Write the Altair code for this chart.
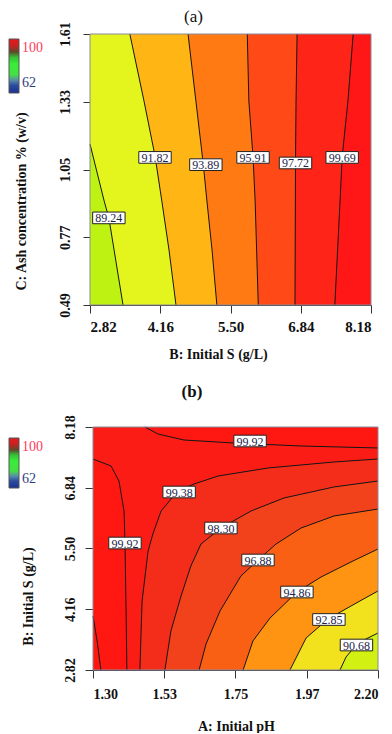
import altair as alt
import pandas as pd

FONT = "Liberation Serif"

# ---------------- Panel (a): B: Initial S vs C: Ash concentration ----------------
A_TITLE = "(a)"
A_X_TICKS = [2.82, 4.16, 5.50, 6.84, 8.18]
A_Y_TICKS = [0.49, 0.77, 1.05, 1.33, 1.61]
A_LEVELS = ["89.24", "91.82", "93.89", "95.91", "97.72", "99.69"]
A_LINE_S = {
    "89.24": [2.82, 3.09, 3.18, 3.45],
    "91.82": [3.58, 3.85, 4.06, 4.19, 4.33, 4.46],
    "93.89": [4.69, 4.84, 4.98, 5.05, 5.15, 5.24],
    "95.91": [5.82, 5.85, 5.93, 5.97, 6.03],
    "97.72": [6.77, 6.75, 6.74, 6.73],
    "99.69": [7.84, 7.74, 7.63, 7.59, 7.49],
}
A_LINE_C = {
    "89.24": [1.155, 0.92, 0.85, 0.49],
    "91.82": [1.61, 1.333, 1.106, 0.92, 0.713, 0.49],
    "93.89": [1.61, 1.333, 1.073, 0.92, 0.713, 0.49],
    "95.91": [1.61, 1.333, 1.102, 0.92, 0.49],
    "97.72": [1.61, 1.333, 1.077, 0.49],
    "99.69": [1.61, 1.333, 1.102, 0.92, 0.49],
}
# colour of the band lying beyond (right of) each level; first = below lowest level
A_BAND_COLORS = ["#bdf212", "#e3f51c", "#ffb614", "#ff7a12", "#ff4a18", "#ff2418", "#ff1616"]
A_LABEL_S = [3.18, 4.06, 5.03, 5.93, 6.74, 7.63]
A_LABEL_C = [0.85, 1.10, 1.07, 1.10, 1.077, 1.10]

# ---------------- Panel (b): A: Initial pH vs B: Initial S ----------------
B_TITLE = "(b)"
B_X_TICKS = [1.30, 1.525, 1.75, 1.975, 2.20]
B_X_LABELS = ["1.30", "1.53", "1.75", "1.97", "2.20"]
B_Y_TICKS = [2.82, 4.16, 5.50, 6.84, 8.18]
# 99.92 contour reaching the top edge
B_TOP_PH = [1.464, 1.505, 1.587, 1.745, 1.957, 2.20]
B_TOP_S = [8.18, 8.026, 7.893, 7.827, 7.761, 7.717]
# 99.92 contour reaching the left edge
B_LEFT_PH = [1.30, 1.357, 1.382, 1.398, 1.401, 1.404, 1.407]
B_LEFT_S = [7.474, 7.320, 6.989, 6.327, 5.621, 4.342, 2.82]
# small contour in the lower-left corner
B_CORNER_PH = [1.30, 1.313, 1.325]
B_CORNER_S = [4.011, 3.460, 2.82]
# contours running from the bottom edge to the right edge
B_LEVELS = ["99.38", "98.30", "96.88", "94.86", "92.85", "90.68"]
B_LINE_PH = {
    "99.38": [1.448, 1.455, 1.474, 1.489, 1.515, 1.568, 1.619, 1.695, 1.853, 2.061, 2.20],
    "98.30": [1.527, 1.546, 1.578, 1.609, 1.641, 1.704, 1.799, 1.903, 2.061, 2.20],
    "96.88": [1.635, 1.657, 1.701, 1.767, 1.821, 1.878, 1.957, 2.061, 2.20],
    "94.86": [1.774, 1.805, 1.859, 1.944, 2.020, 2.121, 2.20],
    "92.85": [1.922, 1.973, 2.042, 2.143, 2.20],
    "90.68": [2.080, 2.099, 2.131, 2.162, 2.20],
}
B_LINE_S = {
    "99.38": [2.82, 4.342, 5.445, 5.820, 6.327, 6.768, 6.923, 7.099, 7.276, 7.408, 7.474],
    "98.30": [2.82, 3.680, 4.452, 5.114, 5.599, 5.952, 6.327, 6.614, 6.857, 6.989],
    "96.88": [2.82, 3.393, 4.121, 4.893, 5.246, 5.599, 5.952, 6.217, 6.371],
    "94.86": [2.82, 3.460, 3.967, 4.540, 4.871, 5.224, 5.489],
    "92.85": [2.82, 3.526, 3.945, 4.342, 4.563],
    "90.68": [2.82, 3.107, 3.371, 3.504, 3.636],
}
B_BASE_COLOR = "#fb1d15"     # 99.38 - 99.92 band
B_HIGH_COLOR = "#ff1812"     # above 99.92
B_BAND_COLORS = ["#f42c1a", "#f2421c", "#fa6014", "#ff9412", "#f2e21e", "#d2f012"]
B_LABEL_TEXT = ["99.92", "99.38", "98.30", "99.92", "96.88", "94.86", "92.85", "90.68"]
B_LABEL_PH = [1.796, 1.572, 1.704, 1.401, 1.821, 1.944, 2.045, 2.132]
B_LABEL_S = [7.871, 6.746, 5.952, 5.621, 5.246, 4.540, 3.934, 3.371]

LEGEND_HI, LEGEND_LO = "100", "62"
LEGEND_STOPS = [(0.0, "#e41a1c"), (0.12, "#cc2020"), (0.24, "#5c4a2c"), (0.34, "#36c036"),
                (0.46, "#38ee38"), (0.66, "#44e044"), (0.76, "#5a8ea8"), (0.86, "#2a4ca0"),
                (1.0, "#1a3090")]

LINE_COLOR = "#151515"
BOX_SHAPE = "M-1,-0.36L1,-0.36L1,0.36L-1,0.36Z"


def gradient():
    return alt.LinearGradient(
        gradient="linear", x1=0, y1=0, x2=0, y2=1,
        stops=[alt.GradientStop(offset=o, color=c) for o, c in LEGEND_STOPS])


def px_text(txt, x, y, size, color, weight="normal", align="center"):
    return alt.Chart(pd.DataFrame({"t": [txt]})).mark_text(
        font=FONT, fontSize=size, fontWeight=weight, color=color,
        align=align, baseline="middle").encode(text="t:N", x=alt.value(x), y=alt.value(y))


def legend(y0, y1, yhi, ylo):
    bar = alt.Chart(pd.DataFrame({"k": [0]})).mark_rect(
        fill=gradient(), stroke="#555555", strokeWidth=1).encode(
        x=alt.value(-81), x2=alt.value(-71), y=alt.value(y0), y2=alt.value(y1))
    return [bar, px_text(LEGEND_HI, -68, yhi, 14, "#ff3b5c", align="left"),
            px_text(LEGEND_LO, -68, ylo, 14, "#2c3e80", align="left")]


class Panel:
    def __init__(self, xs, ys, xaxis, yaxis):
        self.xs, self.ys, self.xa, self.ya = xs, ys, xaxis, yaxis

    def X(self, f):
        return alt.X(f, scale=self.xs, axis=self.xa, title=None)

    def Y(self, f):
        return alt.Y(f, scale=self.ys, axis=self.ya, title=None)


def rect_box(P, xdom, ydom, **mk):
    box = pd.DataFrame({"x0": [xdom[0]], "x1": [xdom[1]], "y0": [ydom[0]], "y1": [ydom[1]]})
    return alt.Chart(box).mark_rect(**mk).encode(
        x=P.X("x0:Q"), x2="x1:Q", y=P.Y("y0:Q"), y2="y1:Q")


def lines_layer(P, rows):
    df = pd.DataFrame(rows, columns=["level", "i", "x", "y"])
    return alt.Chart(df).mark_line(color=LINE_COLOR, strokeWidth=1).encode(
        x=P.X("x:Q"), y=P.Y("y:Q"), detail="level:N", order="i:Q")


def labels_layers(P, texts, xv, yv):
    df = pd.DataFrame({"t": texts, "x": xv, "y": yv})
    box = alt.Chart(df).mark_point(shape=BOX_SHAPE, size=1050, filled=True, fill="white",
                                   stroke="#222222", strokeWidth=1, opacity=1).encode(
        x=P.X("x:Q"), y=P.Y("y:Q"))
    txt = alt.Chart(df).mark_text(font=FONT, fontSize=12, color="#1c2448",
                                  baseline="middle", dy=0.5).encode(
        x=P.X("x:Q"), y=P.Y("y:Q"), text="t:N")
    return [box, txt]


def area_h(P, xs_left, xs_right, yv, color):
    # band between two x-boundaries along y
    df = pd.DataFrame({"a": xs_left, "b": xs_right, "y": yv}).sort_values("y").reset_index(drop=True)
    return alt.Chart(df).mark_area(orient="horizontal", color=color).encode(
        x=P.X("a:Q"), x2="b:Q", y=P.Y("y:Q"))


def area_v(P, xv, ylo, yhi, color):
    df = pd.DataFrame({"x": xv, "a": ylo, "b": yhi}).sort_values("x").reset_index(drop=True)
    return alt.Chart(df).mark_area(orient="vertical", color=color).encode(
        x=P.X("x:Q"), y=P.Y("a:Q"), y2="b:Q")


# ====================== build panel (a) ======================
axs = alt.Scale(domain=[A_X_TICKS[0], A_X_TICKS[-1]], nice=False, zero=False)
ays = alt.Scale(domain=[A_Y_TICKS[0], A_Y_TICKS[-1]], nice=False, zero=False)
a_xaxis = alt.Axis(values=A_X_TICKS, format=".2f", title="B: Initial S (g/L)", grid=False,
                   labelFont=FONT, labelFontSize=15, labelFontWeight="bold", labelColor="#111",
                   tickSize=8, labelPadding=6, tickColor="#333", domainColor="#333",
                   titleFont=FONT, titleFontSize=14, titleFontWeight="bold", titleColor="#111",
                   titleX=128, titleY=49, titleBaseline="middle", titleAlign="center")
a_yaxis = alt.Axis(values=A_Y_TICKS, format=".2f", title="C: Ash concentration % (w/v)",
                   grid=False, labelFont=FONT, labelFontSize=14, labelFontWeight="bold",
                   labelColor="#111", labelAngle=270, labelAlign="center",
                   labelBaseline="bottom", tickSize=7, labelPadding=11,
                   tickColor="#333", domainColor="#333",
                   titleFont=FONT, titleFontSize=14, titleFontWeight="bold", titleColor="#111",
                   titleAngle=270, titleX=-69, titleY=167, titleBaseline="middle",
                   titleAlign="center")
PA = Panel(axs, ays, a_xaxis, a_yaxis)
AX = [A_X_TICKS[0], A_X_TICKS[-1]]
AY = [A_Y_TICKS[0], A_Y_TICKS[-1]]
a_layers = [rect_box(PA, AX, AY, color=A_BAND_COLORS[0])]
for k, lev in enumerate(A_LEVELS):
    s = list(A_LINE_S[lev])
    c = list(A_LINE_C[lev])
    if c[0] < AY[1]:
        s = [AX[0]] + s
        c = [AY[1]] + c
    a_layers.append(area_h(PA, s, [AX[1]] * len(s), c, A_BAND_COLORS[k + 1]))
rows = []
for lev in A_LEVELS:
    for i, (s, c) in enumerate(zip(A_LINE_S[lev], A_LINE_C[lev])):
        rows.append((lev, i, s, c))
a_layers.append(lines_layer(PA, rows))
a_layers += labels_layers(PA, A_LEVELS, A_LABEL_S, A_LABEL_C)
a_layers.append(rect_box(PA, AX, AY, fillOpacity=0, stroke="#8a8a9a", strokeWidth=1))
a_layers += legend(5, 59, 13.5, 49)
a_layers.append(px_text(A_TITLE, 103.5, -17, 17, "#111"))
chart_a = alt.layer(*a_layers).properties(width=281, height=271)

# ====================== build panel (b) ======================
bxs = alt.Scale(domain=[B_X_TICKS[0], B_X_TICKS[-1]], range=[3, 288], nice=False, zero=False)
bys = alt.Scale(domain=[B_Y_TICKS[0], B_Y_TICKS[-1]], nice=False, zero=False)
vals = ",".join(repr(v) for v in B_X_TICKS)
labs = ",".join("'" + l + "'" for l in B_X_LABELS)
b_xaxis = alt.Axis(values=B_X_TICKS, labelExpr=f"[{labs}][indexof([{vals}], datum.value)]",
                   title="A: Initial pH", grid=False,
                   labelFont=FONT, labelFontSize=14, labelFontWeight="bold", labelColor="#111",
                   tickSize=8, labelPadding=9, tickColor="#333", domainColor="#333",
                   titleFont=FONT, titleFontSize=14, titleFontWeight="bold", titleColor="#111",
                   titleX=146, titleY=56, titleBaseline="middle", titleAlign="center")
b_yaxis = alt.Axis(values=B_Y_TICKS, format=".2f", title="B: Initial S (g/L)", grid=False,
                   offset=-3, labelFont=FONT, labelFontSize=14, labelFontWeight="bold",
                   labelColor="#111", labelAngle=270, labelAlign="center",
                   labelBaseline="bottom", tickSize=8, labelPadding=8,
                   tickColor="#333", domainColor="#333",
                   titleFont=FONT, titleFontSize=14, titleFontWeight="bold", titleColor="#111",
                   titleAngle=270, titleX=-65, titleY=169, titleBaseline="middle",
                   titleAlign="center")
PB = Panel(bxs, bys, b_xaxis, b_yaxis)
BX = [B_X_TICKS[0], B_X_TICKS[-1]]
BY = [B_Y_TICKS[0], B_Y_TICKS[-1]]
b_layers = [rect_box(PB, BX, BY, color=B_BASE_COLOR)]
b_layers.append(area_v(PB, B_TOP_PH, B_TOP_S, [BY[1]] * len(B_TOP_PH), B_HIGH_COLOR))
b_layers.append(area_h(PB, [BX[0]] * len(B_LEFT_PH), B_LEFT_PH, B_LEFT_S, B_HIGH_COLOR))
for k, lev in enumerate(B_LEVELS):
    b_layers.append(area_v(PB, B_LINE_PH[lev], [BY[0]] * len(B_LINE_PH[lev]),
                           B_LINE_S[lev], B_BAND_COLORS[k]))
rows = []
for name, xv, yv in [("top", B_TOP_PH, B_TOP_S), ("left", B_LEFT_PH, B_LEFT_S),
                     ("corner", B_CORNER_PH, B_CORNER_S)] + \
        [(lev, B_LINE_PH[lev], B_LINE_S[lev]) for lev in B_LEVELS]:
    for i, (x, y) in enumerate(zip(xv, yv)):
        rows.append((name, i, x, y))
b_layers.append(lines_layer(PB, rows))
b_layers += labels_layers(PB, B_LABEL_TEXT, B_LABEL_PH, B_LABEL_S)
b_layers.append(rect_box(PB, BX, BY, fillOpacity=0, stroke="#8a8a9a", strokeWidth=1))
b_layers += legend(11, 61, 20, 51.5)
b_layers.append(px_text(B_TITLE, 102, -35, 17, "#111", weight="bold"))
chart_b = alt.layer(*b_layers).properties(width=288, height=243)

chart = alt.vconcat(chart_a, chart_b, spacing=122, bounds="flush").properties(
    padding={"left": 0, "top": 0, "right": 0, "bottom": 0}, background="white"
).configure_view(strokeWidth=0)

chart.save("out.html", embed_options={"renderer": "svg", "actions": False})
